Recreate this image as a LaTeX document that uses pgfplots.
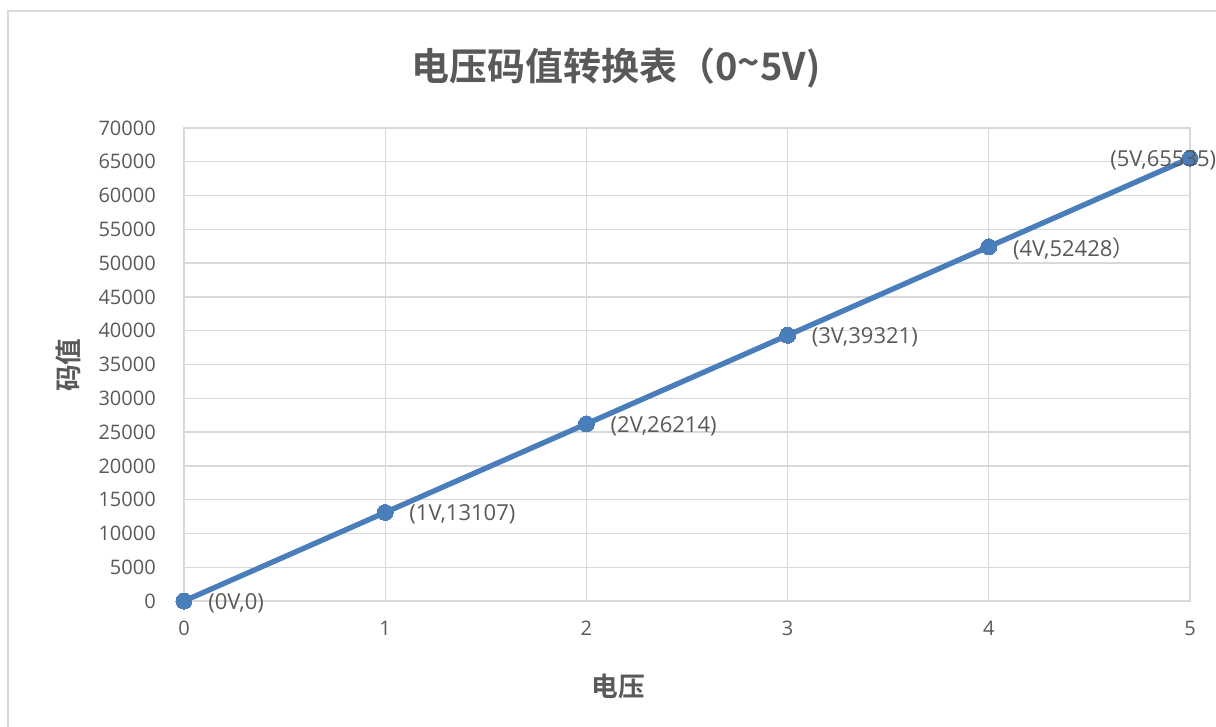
\documentclass[border=0pt]{standalone}
\usepackage{fontspec}
\setmainfont{Open Sans}
\newfontfamily\cjk{Noto Sans CJK SC}
\newfontfamily\cjkb{Noto Sans CJK SC Bold}
\usepackage{pgfplots}
\pgfplotsset{compat=1.18}
\definecolor{txt}{HTML}{595959}
\definecolor{gridc}{HTML}{D9D9D9}
\definecolor{serie}{HTML}{4A7EBB}
\begin{document}
\begin{tikzpicture}
% page = 1216x726 px at 0.75pt per px, origin at the axis' lower left corner
\path[use as bounding box] (-138pt,-93.75pt) rectangle ++(912pt,544.5pt);
\draw[gridc, line width=1.5pt] (-132pt,-140pt) rectangle (820pt,442.5pt);
\begin{axis}[
  at={(0,0)}, anchor=south west,
  scale only axis,
  width=754.5pt, height=354.75pt,
  xmin=0, xmax=5, ymin=0, ymax=70000,
  xtick={0,1,2,3,4,5},
  ytick={0,5000,...,70000},
  scaled y ticks=false,
  /pgf/number format/.cd, 1000 sep={}, assume math mode=true,
  /pgfplots/.cd,
  grid=major,
  major grid style={gridc, line width=1pt},
  axis line style={gridc, line width=1pt},
  tick style={draw=none},
  ticklabel style={font=\fontsize{15}{18}\selectfont, text=txt},
  yticklabel style={inner sep=0pt, xshift=-21pt},
  xticklabel style={inner sep=0pt, yshift=-15pt},
  clip=false,
]
\addplot[serie, line width=4pt, mark=*, mark size=6pt,
  mark options={fill=serie, draw=serie, line width=0pt}] coordinates {
  (0,0) (1,13107) (2,26214) (3,39321) (4,52428) (5,65535)
};
\addplot[draw=none, mark=none, point meta=explicit symbolic,
  nodes near coords,
  every node near coord/.style={anchor=west, inner sep=0pt, xshift=18pt, yshift=-1.5pt,
    font=\fontsize{16.5}{19}\selectfont, text=txt}] coordinates {
  (0,0) [(0V,0)]
  (1,13107) [(1V,13107)]
  (2,26214) [(2V,26214)]
  (3,39321) [(3V,39321)]
  (4,52428) [(4V,52428{\cjk ）}]
};
\addplot[draw=none, mark=none, point meta=explicit symbolic,
  nodes near coords,
  every node near coord/.style={anchor=west, inner sep=0pt, xshift=-60pt, yshift=-1.5pt,
    font=\fontsize{16.5}{19}\selectfont, text=txt}] coordinates {
  (5,65535) [(5V,65535)]
};
\end{axis}
\node[text=txt, inner sep=0pt, font=\cjkb\fontsize{28.5}{32}\selectfont] at (324pt,399.75pt) {电压码值转换表（0\raisebox{0.1em}{\textasciitilde}5V)};
\node[text=txt, inner sep=0pt, font=\cjkb\fontsize{20}{24}\selectfont] at (325.5pt,-63.75pt) {电压};
\node[text=txt, inner sep=0pt, rotate=90, font=\cjkb\fontsize{20}{24}\selectfont] at (-87pt,177pt) {码值};
\end{tikzpicture}
\end{document}
